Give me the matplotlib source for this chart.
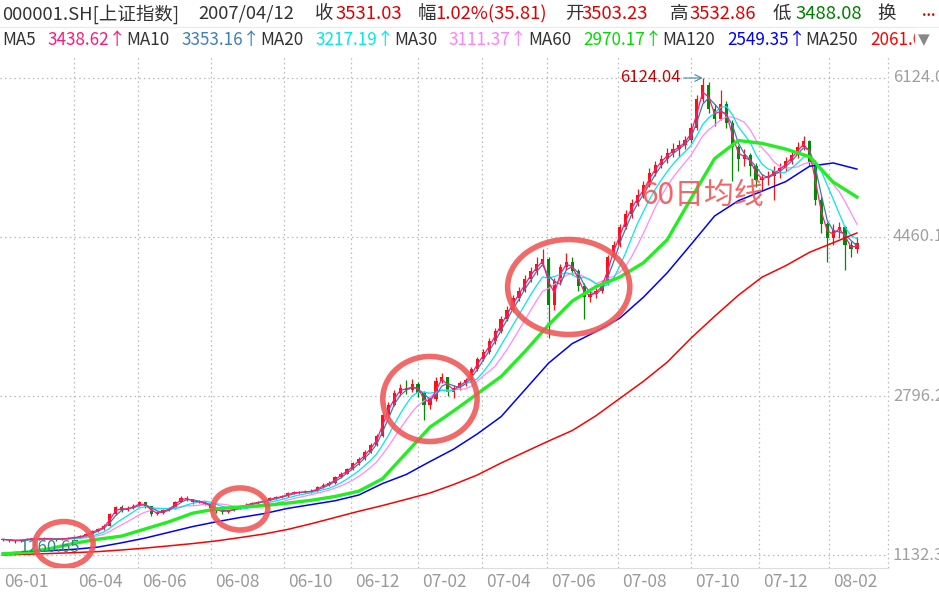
import numpy as np
import pandas as pd
import matplotlib
matplotlib.use('Agg')
import matplotlib.pyplot as plt
from matplotlib.patches import Ellipse, Rectangle
from matplotlib.lines import Line2D
from matplotlib import transforms

plt.rcParams['font.family'] = ['Noto Sans CJK SC', 'DejaVu Sans']

# candles, one bar ~ 3-4 trading days
opens = [1290, 1296, 1285, 1278, 1292, 1300, 1306, 1298, 1305, 1300,
         1296, 1304, 1310, 1318, 1330, 1352, 1385, 1405, 1440, 1560,
         1632, 1605, 1620, 1650, 1682, 1640, 1565, 1575, 1600, 1625,
         1690, 1730, 1715, 1685, 1690, 1668, 1620, 1592, 1585, 1605,
         1620, 1650, 1660, 1680, 1686, 1702, 1726, 1735, 1748, 1780,
         1786, 1790, 1796, 1802, 1840, 1870, 1885, 1950, 1985, 2030,
         2090, 2140, 2210, 2280, 2380, 2600, 2700, 2830, 2880, 2860,
         2920, 2830, 2700, 2760, 2950, 2990, 2840, 2880, 2930, 2960,
         3080, 3180, 3260, 3370, 3480, 3600, 3700, 3820, 3900, 4020,
         4100, 4180, 4230, 3750, 4000, 4150, 4200, 4100, 3950, 3830,
         3860, 3900, 3980, 4250, 4380, 4560, 4700, 4820, 4900, 5000,
         5130, 5210, 5280, 5340, 5380, 5420, 5480, 5600, 5900, 6050,
         5800, 5700, 5850, 5650, 5400, 5280, 5320, 5200, 5060, 5080,
         5100, 5150, 5180, 5260, 5320, 5400, 5460, 5250, 4850, 4600,
         4450, 4530, 4560, 4380, 4330]
closes = [1296, 1285, 1278, 1292, 1300, 1306, 1298, 1305, 1300, 1296,
          1304, 1310, 1318, 1330, 1352, 1385, 1405, 1440, 1560, 1632,
          1605, 1620, 1650, 1682, 1640, 1565, 1575, 1600, 1625, 1690,
          1730, 1715, 1685, 1690, 1668, 1620, 1592, 1585, 1605, 1620,
          1650, 1660, 1680, 1686, 1702, 1726, 1735, 1748, 1780, 1786,
          1790, 1796, 1802, 1840, 1870, 1885, 1950, 1985, 2030, 2090,
          2140, 2210, 2280, 2380, 2600, 2700, 2830, 2880, 2860, 2920,
          2830, 2700, 2760, 2950, 2990, 2840, 2880, 2930, 2960, 3080,
          3180, 3260, 3370, 3480, 3600, 3700, 3820, 3900, 4020, 4100,
          4180, 4230, 3750, 4000, 4150, 4200, 4100, 3950, 3830, 3860,
          3900, 3980, 4250, 4380, 4560, 4700, 4820, 4900, 5000, 5130,
          5210, 5280, 5340, 5380, 5420, 5480, 5600, 5900, 6050, 5800,
          5700, 5850, 5650, 5400, 5280, 5320, 5200, 5060, 5080, 5100,
          5150, 5180, 5260, 5320, 5400, 5460, 5250, 4850, 4600, 4450,
          4530, 4560, 4380, 4330, 4400]
highs = [1305, 1300, 1290, 1298, 1310, 1315, 1312, 1316, 1312, 1308,
         1312, 1320, 1326, 1338, 1360, 1392, 1418, 1452, 1575, 1650,
         1660, 1640, 1665, 1700, 1690, 1648, 1590, 1610, 1638, 1700,
         1750, 1745, 1722, 1705, 1698, 1672, 1630, 1605, 1615, 1632,
         1660, 1672, 1690, 1698, 1712, 1735, 1748, 1760, 1792, 1800,
         1805, 1810, 1820, 1852, 1885, 1905, 1962, 2000, 2045, 2110,
         2160, 2230, 2300, 2400, 2620, 2730, 2860, 2920, 2960, 2975,
         2940, 2850, 2790, 2990, 3040, 3000, 2910, 2950, 2985, 3100,
         3200, 3290, 3400, 3510, 3630, 3740, 3850, 3940, 4060, 4150,
         4250, 4335, 4250, 4030, 4180, 4290, 4250, 4130, 3980, 3900,
         3930, 4010, 4270, 4420, 4600, 4740, 4860, 4960, 5050, 5180,
         5260, 5320, 5390, 5440, 5470, 5520, 5650, 5950, 6124.04, 6080,
         5850, 6000, 5880, 5680, 5420, 5380, 5340, 5230, 5120, 5150,
         5200, 5230, 5300, 5370, 5450, 5517, 5480, 5270, 4880, 4620,
         4600, 4620, 4580, 4420, 4460]
lows = [1282, 1272, 1260.65, 1270, 1285, 1292, 1288, 1290, 1291, 1282,
        1288, 1296, 1302, 1310, 1325, 1345, 1378, 1398, 1435, 1550,
        1585, 1590, 1612, 1640, 1625, 1545, 1550, 1565, 1592, 1618,
        1682, 1700, 1670, 1672, 1652, 1600, 1575, 1565, 1575, 1596,
        1612, 1640, 1650, 1668, 1678, 1695, 1716, 1725, 1740, 1770,
        1772, 1776, 1782, 1795, 1830, 1858, 1878, 1938, 1975, 2020,
        2075, 2130, 2195, 2270, 2370, 2580, 2690, 2800, 2820, 2840,
        2790, 2545, 2660, 2740, 2930, 2800, 2780, 2860, 2900, 2950,
        3060, 3160, 3240, 3340, 3460, 3580, 3680, 3790, 3880, 3990,
        4060, 4150, 3400, 3700, 3960, 4120, 4060, 3900, 3600, 3780,
        3820, 3870, 3960, 4230, 4360, 4540, 4660, 4780, 4870, 4980,
        5100, 5180, 5230, 5300, 5300, 5380, 5440, 5580, 5870, 5760,
        5620, 5680, 5600, 5050, 5150, 5200, 5100, 4980, 4950, 5000,
        4850, 5080, 5150, 5220, 5290, 5370, 5200, 4800, 4500, 4200,
        4380, 4450, 4110, 4250, 4290]

# long moving averages, read every 4 bars
ma_step = 4
ma60 = [1144, 1160, 1200, 1255, 1297, 1330, 1405, 1480, 1570, 1615,
        1635, 1650, 1675, 1705, 1745, 1800, 1930, 2200, 2470, 2640,
        2820, 3000, 3260, 3540, 3790, 3940, 4040, 4190, 4430, 4860,
        5280, 5470, 5440, 5380, 5300, 5035, 4878]
ma120 = [1150, 1165, 1178, 1192, 1215, 1260, 1310, 1370, 1430, 1480,
         1525, 1565, 1620, 1660, 1700, 1760, 1880, 1975, 2110, 2240,
         2400, 2580, 2860, 3140, 3345, 3470, 3610, 3830, 4085, 4380,
         4680, 4840, 4940, 5040, 5200, 5235, 5171]
ma250 = [1133, 1140, 1148, 1157, 1168, 1185, 1205, 1228, 1252, 1280,
         1315, 1352, 1400, 1460, 1525, 1590, 1650, 1715, 1781, 1870,
         1970, 2095, 2210, 2325, 2435, 2590, 2770, 2950, 3150, 3400,
         3630, 3850, 4040, 4160, 4300, 4400, 4502]

month_labels = ['06-01', '06-04', '06-06', '06-08', '06-10', '06-12', '07-02',
                '07-04', '07-06', '07-08', '07-10', '07-12', '08-02']
month_pos = [-0.5, 12.0, 22.8, 35.1, 47.4, 58.7, 70.0, 80.8, 91.7, 103.7,
             116.0, 127.5, 139.3]
y_ticks = [1132.33, 2796.23, 4460.14, 6124.04]

# marked regions: (bar, price, width in bars, height in price)
circles = [(10.3, 1247, 9.8, 471), (40.0, 1614, 9.3, 440),
           (72.0, 2765, 15.9, 890), (95.4, 3937, 20.6, 994)]

W, H = 939, 596
fig = plt.figure(figsize=(W / 100, H / 100), dpi=100)
ax = fig.add_axes([0, 1 - 568 / H, 888 / W, (568 - 55) / H])
ax.set_xlim(-0.5, 149.24)
ax.set_ylim(996.3, 6364.7)

n = len(closes)
idx = np.arange(n)
o = np.array(opens, float)
c = np.array(closes, float)
up = c >= o
cols = np.where(up, '#ff1010', '#008c00')

grid_kw = dict(color='#b8b8b8', lw=0.9, ls=(0, (1.2, 2.5)), zorder=0)
for v in y_ticks:
    ax.axhline(v, **grid_kw)
for p in month_pos[1:]:
    ax.axvline(p, **grid_kw)
ax.plot([1, 1], [0, 1], transform=ax.transAxes, clip_on=False, **grid_kw)

ax.vlines(idx, lows, highs, colors=cols, lw=0.9, zorder=2)
body = np.maximum(np.abs(c - o), 8)
ax.bar(idx, body, bottom=np.minimum(o, c), width=0.55, color=cols, lw=0, zorder=2)

s = pd.Series(closes)
ax.plot(idx, s.rolling(9, min_periods=1).mean(), color='#ff88ff', lw=0.9, zorder=3)
ax.plot(idx, s.rolling(6, min_periods=1).mean(), color='#00e8f0', lw=0.9, zorder=3)
ax.plot(idx, s.rolling(3, min_periods=1).mean(), color='#3f78b4', lw=0.9, zorder=3)
ax.plot(idx, s.rolling(2, min_periods=1).mean(), color='#ff1a7a', lw=0.9, zorder=3)

mx = np.arange(0, n, ma_step)
ax.plot(mx, ma250, color='#ff0000', lw=1.1, zorder=3)
ax.plot(mx, ma120, color='#0000ff', lw=1.1, zorder=3)
ax.plot(mx, ma60, color='#22ee22', lw=2.4, zorder=3)

for cx, cy, w, h in circles:
    ax.add_patch(Ellipse((cx, cy), w, h, fill=False, ec='#f05555', lw=4,
                         alpha=0.88, zorder=5))

ax.text(118, 4899, '60日均线', fontsize=21.5, color='#f25a5a', alpha=0.92,
        ha='center', va='center', zorder=6)

ax.annotate('6124.04', xy=(118, 6124.04), xytext=(-22, 0),
            textcoords='offset pixels', ha='right', va='center',
            color='#cc0000', fontsize=12, zorder=6,
            arrowprops=dict(arrowstyle='->', color='#3d8fa8', lw=0.8,
                            shrinkA=0, shrinkB=0))
ax.annotate('1260.65', xy=(2, 1260.65), xytext=(5, -5),
            textcoords='offset pixels', ha='left', va='center',
            color='#2a8c7c', fontsize=12, zorder=4)

for sp in ['left', 'right', 'top']:
    ax.spines[sp].set_visible(False)
ax.spines['bottom'].set_color('#dddddd')
ax.set_xticks([])
ax.set_yticks([])

xt = transforms.blended_transform_factory(ax.transData, fig.transFigure)
shift = transforms.ScaledTranslation(4 / 100, 0, fig.dpi_scale_trans)
for p, lab in zip(month_pos, month_labels):
    ax.text(p, 1 - 582 / H, lab, transform=xt + shift, ha='left', va='center',
            fontsize=12.5, color='#9a9a9a', clip_on=False)

yt = transforms.blended_transform_factory(fig.transFigure, ax.transData)
for v in y_ticks:
    ax.text(893 / W, v, '%.2f' % v, transform=yt, ha='left', va='center',
            fontsize=12, color='#a0a0a0', clip_on=False)

# header
dark, red, green = '#333333', '#e00000', '#008000'
line1 = [(2, '000001.SH[上证指数]', dark), (198, '2007/04/12', dark),
         (315, '收', dark), (335, '3531.03', red), (418, '幅', dark),
         (435, '1.02%(35.81)', red), (565, '开', dark), (582, '3503.23', red),
         (670, '高', dark), (690, '3532.86', red), (773, '低', dark),
         (795, '3488.08', green), (877, '换', dark)]
line2 = [(2, 'MA5', dark), (47, '3438.62↑', '#ff1a7a'), (126, 'MA10', dark),
         (181, '3353.16↑', '#3f7fc0'), (260, 'MA20', dark),
         (315, '3217.19↑', '#00e8f0'), (394, 'MA30', dark),
         (448, '3111.37↑', '#ff80ff'), (528, 'MA60', dark),
         (583, '2970.17↑', '#00dd00'), (662, 'MA120', dark),
         (727, '2549.35↑', '#0000ff'), (805, 'MA250', dark),
         (870, '2061.08', '#ff0000')]
for x, t, col in line1:
    fig.text(x / W, 1 - 14 / H, t, fontsize=13.3, color=col, va='center')
fig.text(922 / W, 1 - 12 / H, '...', fontsize=10, color=red, va='center',
         fontweight='bold')
for x, t, col in line2:
    fig.text(x / W, 1 - 40 / H, t, fontsize=12.3, color=col, va='center')
fig.add_artist(Rectangle((915 / W, 1 - 54 / H), 24 / W, 26 / H,
                         transform=fig.transFigure, color='white', zorder=5))
fig.text(918 / W, 1 - 40 / H, '▼', fontsize=11, color='#888888', va='center',
         family='DejaVu Sans', zorder=6)
fig.add_artist(Line2D([0, 1], [1 - 27 / H] * 2, color='#ebebeb', lw=1))

fig.savefig('out.png', dpi=100)
